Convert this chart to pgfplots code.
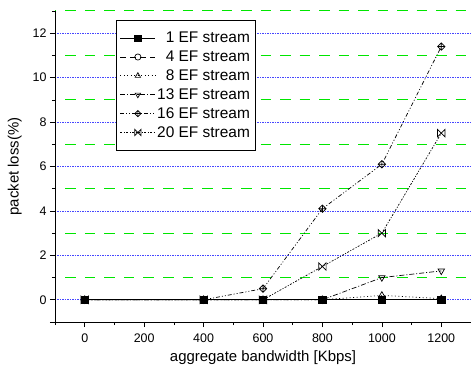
\documentclass[border=0pt]{standalone}
\usepackage{pgfplots}
\pgfplotsset{compat=1.18}
\usepackage{fontspec}
\setmainfont{Liberation Sans}
\definecolor{gridblue}{RGB}{70,70,255}
\definecolor{gridgreen}{RGB}{0,230,0}
\pgfdeclareplotmark{diamondplus}{%
 \pgfpathmoveto{\pgfqpoint{0pt}{\pgfplotmarksize}}%
 \pgfpathlineto{\pgfqpoint{\pgfplotmarksize}{0pt}}%
 \pgfpathlineto{\pgfqpoint{0pt}{-\pgfplotmarksize}}%
 \pgfpathlineto{\pgfqpoint{-\pgfplotmarksize}{0pt}}%
 \pgfpathclose
 \pgfpathmoveto{\pgfqpoint{0pt}{\pgfplotmarksize}}\pgfpathlineto{\pgfqpoint{0pt}{-\pgfplotmarksize}}%
 \pgfpathmoveto{\pgfqpoint{-\pgfplotmarksize}{0pt}}\pgfpathlineto{\pgfqpoint{\pgfplotmarksize}{0pt}}%
 \pgfusepathqstroke}
\pgfdeclareplotmark{bowx}{%
 \pgfpathmoveto{\pgfqpoint{-\pgfplotmarksize}{\pgfplotmarksize}}%
 \pgfpathlineto{\pgfqpoint{\pgfplotmarksize}{-\pgfplotmarksize}}%
 \pgfpathlineto{\pgfqpoint{\pgfplotmarksize}{\pgfplotmarksize}}%
 \pgfpathlineto{\pgfqpoint{-\pgfplotmarksize}{-\pgfplotmarksize}}%
 \pgfpathclose
 \pgfusepathqstroke}
\begin{document}
\begin{tikzpicture}
\useasboundingbox (-55bp,-51bp) rectangle (416bp,322bp);
\begin{axis}[
  scale only axis,
  width=416bp, height=311bp,
  xmin=-100, xmax=1300, ymin=-1, ymax=13,
  axis x line*=bottom, axis y line*=left,
  axis line style={line width=0.8pt},
  xtick={0,200,...,1200}, ytick={0,2,...,12},
  minor xtick={-100,100,300,500,700,900,1100,1300},
  minor ytick={-1,1,3,5,7,9,11,13},
  extra y ticks={-1}, extra y tick labels={},
  tick align=outside,
  major tick length=5bp, minor tick length=3bp,
  tick style={black, line width=0.7pt},
  ymajorgrids, yminorgrids,
  major grid style={draw=gridblue, line width=0.7pt, dash pattern=on 1.2bp off 1.3bp},
  minor grid style={draw=gridgreen, line width=1bp, dash pattern=on 10.5bp off 9bp, dash phase=9bp},
  extra y tick style={grid=none},
  ticklabel style={font=\fontsize{12.5}{14}\selectfont},
  xticklabel style={yshift=-3bp},
  /pgf/number format/assume math mode=true,
  /pgf/number format/1000 sep={},
  xlabel={aggregate bandwidth [Kbps]},
  ylabel={packet loss(\%)},
  label style={font=\fontsize{15}{18}\selectfont},
  xlabel style={yshift=-1bp},
  ylabel style={yshift=-6bp},
  legend style={at={(axis cs:104,12.58)}, anchor=north west,
    font=\fontsize{15.5}{18}\selectfont, draw=black, line width=0.8pt, fill=white,
    row sep=3.6bp, inner xsep=4bp, inner ysep=10bp,
    nodes={inner sep=1.5bp}},
  legend cell align=right,
  legend image code/.code={%
    \draw[#1,mark repeat=2,mark phase=2,mark size=3.1bp] plot coordinates {(0bp,0bp)(17.5bp,0bp)(35bp,0bp)};},
  every axis plot/.append style={black, line width=0.7pt, mark size=3.7bp},
]
\addplot[solid, mark=square*, mark options={solid, fill=black}] coordinates {(0,0)(400,0)(600,0)(800,0)(1000,0)(1200,0)};
\addlegendentry{1 EF stream}
\addplot[dash pattern=on 6pt off 4pt, mark=o, mark options={solid, fill=white}] coordinates {(0,0)(400,0)(600,0)(800,0)(1000,0)(1200,0)};
\addlegendentry{4 EF stream}
\addplot[dash pattern=on 1pt off 2.5pt, mark=triangle, mark options={solid, fill=white}] coordinates {(0,0)(400,0)(600,0)(800,0)(1000,0.2)(1200,0.05)};
\addlegendentry{8 EF stream}
\addplot[dash pattern=on 5pt off 2pt on 1pt off 2pt, mark=triangle, mark options={solid, fill=white, rotate=180}] coordinates {(0,0)(400,0)(600,0)(800,0)(1000,1.0)(1200,1.3)};
\addlegendentry{13 EF stream}
\addplot[dash pattern=on 4pt off 2pt on 1pt off 2pt on 1pt off 2pt, mark=diamondplus, mark options={solid}] coordinates {(0,0)(400,0)(600,0.5)(800,4.1)(1000,6.1)(1200,11.4)};
\addlegendentry{16 EF stream}
\addplot[dash pattern=on 2pt off 1.5pt on 1pt off 1.5pt, mark=bowx, mark options={solid}] coordinates {(0,0)(400,0)(600,0)(800,1.5)(1000,3.0)(1200,7.5)};
\addlegendentry{20 EF stream}
\end{axis}
\end{tikzpicture}
\end{document}
